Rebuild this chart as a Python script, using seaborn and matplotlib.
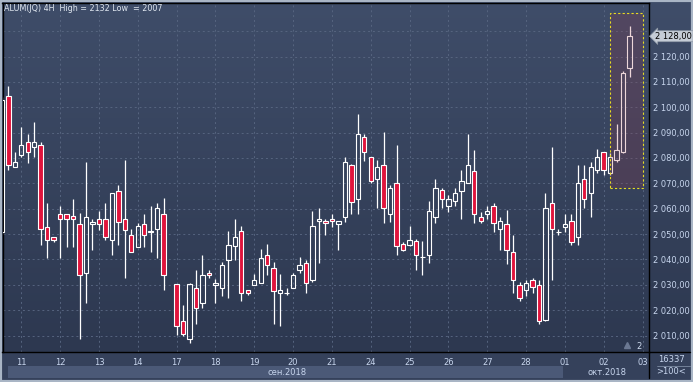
import numpy as np
import pandas as pd
import matplotlib
matplotlib.use('Agg')
import matplotlib.pyplot as plt
import matplotlib.transforms as mtransforms
from matplotlib.colors import LinearSegmentedColormap
from matplotlib.patches import Rectangle
import seaborn as sns

# 4H candles, slot 0 = first bar of the 11th; slot 23 has no bar
slot = list(range(-3, 95))
open_ = [2051.0, 2104.5, 2076.3, 2081.0, 2086.2, 2084.2, 2085.1, 2052.8, 2048.9, 2058.1,
         2058.1, 2057.0, 2054.1, 2034.6, 2054.0, 2056.1, 2056.1, 2047.8, 2067.0, 2056.1,
         2049.8, 2044.9, 2054.1, 2050.9, 2051.8, 2058.1, np.nan, 2030.2, 2015.9, 2008.5,
         2028.8, 2022.9, 2034.8, 2030.0, 2028.8, 2039.9, 2045.2, 2051.1, 2027.8, 2030.0,
         2030.7, 2041.9, 2036.8, 2026.9, 2026.9, 2028.8, 2036.0, 2038.7, 2032.0, 2055.1,
         2055.1, 2056.1, 2054.0, 2056.8, 2077.2, 2063.8, 2088.1, 2080.2, 2071.9, 2077.2,
         2058.1, 2070.0, 2046.0, 2045.8, 2047.2, 2040.9, 2041.9, 2056.8, 2067.2, 2061.0,
         2063.0, 2067.0, 2070.0, 2074.9, 2056.8, 2058.1, 2061.0, 2051.8, 2054.1, 2042.9,
         2030.0, 2027.8, 2032.0, 2030.0, 2016.3, 2062.1, 2050.8, 2052.8, 2055.1, 2048.9,
         2071.9, 2066.0, 2075.2, 2082.2, 2073.9, 2079.2, 2082.4, 2115.4]
high_ = [2104.0, 2108.4, 2082.2, 2092.3, 2089.4, 2094.0, 2086.2, 2062.2, 2049.0, 2061.0,
         2058.1, 2064.0, 2058.3, 2078.4, 2056.1, 2059.1, 2062.2, 2066.0, 2069.3, 2079.2,
         2051.9, 2054.4, 2058.1, 2061.0, 2062.2, 2064.2, np.nan, 2030.2, 2021.9, 2030.8,
         2036.0, 2041.9, 2036.0, 2032.1, 2038.9, 2051.1, 2056.1, 2053.1, 2027.9, 2034.4,
         2044.0, 2046.0, 2038.9, 2034.4, 2028.7, 2034.8, 2040.9, 2039.9, 2059.1, 2060.2,
         2056.1, 2058.1, 2055.1, 2080.5, 2077.5, 2097.4, 2089.4, 2080.2, 2079.2, 2090.1,
         2069.3, 2085.1, 2046.9, 2053.1, 2048.2, 2047.3, 2063.0, 2071.9, 2068.0, 2065.3,
         2068.0, 2075.2, 2089.4, 2083.1, 2058.7, 2061.0, 2062.3, 2056.8, 2059.4, 2049.8,
         2031.1, 2032.0, 2032.8, 2031.7, 2066.2, 2084.4, 2051.9, 2058.1, 2058.1, 2077.2,
         2077.2, 2078.3, 2083.4, 2082.2, 2081.8, 2093.5, 2114.1, 2132.0]
low_ = [2050.0, 2075.1, 2076.3, 2080.2, 2078.1, 2080.2, 2045.8, 2040.6, 2046.9, 2040.7,
        2044.9, 2044.9, 2008.5, 2022.8, 2043.6, 2051.5, 2047.5, 2041.6, 2045.6, 2032.6,
        2042.9, 2044.9, 2044.9, 2042.9, 2040.7, 2027.8, np.nan, 2010.3, 2009.7, 2007.0,
        2014.6, 2020.9, 2032.8, 2022.8, 2025.5, 2024.7, 2039.6, 2023.6, 2025.8, 2030.0,
        2030.7, 2034.0, 2014.6, 2013.7, 2025.8, 2028.8, 2034.8, 2026.9, 2031.0, 2038.7,
        2049.5, 2052.8, 2043.6, 2054.8, 2058.1, 2058.1, 2078.9, 2070.0, 2060.1, 2054.2,
        2054.8, 2041.6, 2043.5, 2045.2, 2036.0, 2034.0, 2038.6, 2054.2, 2060.1, 2058.7,
        2061.0, 2056.1, 2070.0, 2054.2, 2054.2, 2056.1, 2050.8, 2043.9, 2038.1, 2026.7,
        2023.6, 2025.5, 2026.9, 2014.6, 2015.6, 2031.7, 2049.8, 2050.8, 2045.6, 2045.6,
        2060.1, 2056.8, 2073.9, 2073.2, 2073.2, 2078.3, 2081.8, 2112.1]
close_ = [2103.0, 2077.1, 2078.3, 2085.0, 2082.2, 2086.2, 2051.8, 2047.8, 2047.8, 2056.1,
          2056.1, 2056.1, 2034.0, 2056.9, 2054.9, 2054.1, 2048.9, 2066.0, 2054.8, 2051.7,
          2042.9, 2053.1, 2049.8, 2051.1, 2060.1, 2034.0, np.nan, 2013.7, 2010.4, 2030.2,
          2020.9, 2034.0, 2034.0, 2030.8, 2037.9, 2045.8, 2049.0, 2026.9, 2026.9, 2032.0,
          2040.7, 2037.9, 2027.5, 2027.8, 2026.9, 2034.0, 2037.9, 2030.8, 2053.1, 2056.1,
          2054.2, 2055.1, 2055.1, 2078.3, 2062.7, 2089.4, 2082.2, 2071.0, 2076.3, 2060.1,
          2068.0, 2045.2, 2043.9, 2047.8, 2041.9, 2040.9, 2059.1, 2068.0, 2064.0, 2064.0,
          2066.2, 2071.0, 2077.2, 2058.1, 2055.1, 2059.0, 2054.2, 2055.1, 2043.9, 2032.0,
          2024.9, 2030.8, 2029.1, 2015.9, 2060.1, 2051.8, 2050.8, 2054.1, 2046.9, 2070.0,
          2064.0, 2076.3, 2080.2, 2075.2, 2080.2, 2083.1, 2113.4, 2128.0]

day_labels = ['11', '12', '13', '14', '17', '18', '19', '20', '21', '24', '25', '26',
              '27', '28', '01', '02', '03']
day_slots = list(range(0, 97, 6))
price_ticks = list(range(2010, 2131, 10))
last_price = 2128.0


def price_fmt(v):
    v = int(v)
    return f'{v // 1000} {v % 1000:03d},00'


df = pd.DataFrame({'slot': slot, 'open': open_, 'high': high_, 'low': low_, 'close': close_}).dropna()
df['body_lo'] = df[['open', 'close']].min(axis=1)
df['body_hi'] = df[['open', 'close']].max(axis=1)
df['down'] = df['close'] < df['open']

sns.set_theme(style='dark')
plt.rcParams['font.family'] = ['DejaVu Sans']

W, H = 693, 382
fig = plt.figure(figsize=(W / 100, H / 100), dpi=100, facecolor='#35415b')

# gradient background behind the chart and the price scale
bg = fig.add_axes([0, 30 / H, 1, 352 / H], zorder=0)
bg.imshow(np.linspace(0, 1, 256).reshape(-1, 1), aspect='auto', extent=[0, 1, 0, 1],
          cmap=LinearSegmentedColormap.from_list('bg', ['#3f4d69', '#2d3850']))
bg.axis('off')

ax = fig.add_axes([2.5 / W, 30 / H, 646.5 / W, 349 / H], zorder=1)
ax.set_facecolor('none')

red = '#e0143c'
fills = [red if d else 'none' for d in df['down']]
ax.vlines(df['slot'], df['body_hi'], df['high'], color='white', lw=0.9, zorder=3)
ax.vlines(df['slot'], df['low'], df['body_lo'], color='white', lw=0.9, zorder=3)
ax.bar(df['slot'], df['body_hi'] - df['body_lo'], bottom=df['body_lo'], width=0.68,
       color=fills, edgecolor='white', linewidth=0.8, zorder=4)

# highlighted zone on the last bars
ax.add_patch(Rectangle((91.0, 2068.0), 5.1, 69.1, facecolor='#a43444', alpha=0.2,
                       edgecolor='none', zorder=5))
ax.add_patch(Rectangle((91.0, 2068.0), 5.1, 69.1, facecolor='none', edgecolor='#e8dc22',
                       linestyle=(0, (2, 2)), lw=0.8, zorder=6))

ax.set_xlim(-2.9, 97.0)
ax.set_ylim(2003.5, 2141.1)
ax.set_xticks(day_slots)
ax.set_xticklabels(day_labels)
ax.set_yticks(price_ticks)
# the 2130 label sits under the last-price marker
ax.set_yticklabels([price_fmt(v) if abs(v - last_price) > 4 else '' for v in price_ticks])
ax.yaxis.tick_right()
ax.grid(True, color='#56647f', linestyle=(0, (2, 3)), lw=0.7)
ax.tick_params(axis='y', length=0, pad=2.6, labelsize=6, labelcolor='#c8d6ee')
ax.tick_params(axis='x', length=0, pad=4.5, labelsize=6, labelcolor='#c8d6ee')
for s in ax.spines.values():
    s.set_color('black')
    s.set_linewidth(1.0)

# current price marker
ax.annotate(price_fmt(last_price), xy=(1, last_price),
            xycoords=('axes fraction', 'data'), xytext=(4.5, 0), textcoords='offset points',
            ha='left', va='center', fontsize=6, color='black', annotation_clip=False, zorder=10,
            bbox=dict(boxstyle='larrow,pad=0.12', fc='#c5ccd6', ec='#8e98a6', lw=0.5))

# month band under the dates
tr = mtransforms.blended_transform_factory(ax.transData, ax.transAxes)
ax.add_patch(Rectangle((-2.0, -0.0745), 85.7, 0.0344, transform=tr, clip_on=False,
                       facecolor='#4b5977', edgecolor='none'))
ax.text(41.0, -0.058, 'сен.2018', transform=tr, ha='center', va='center', fontsize=6,
        color='#c8d6ee', clip_on=False)
ax.text(90.5, -0.058, 'окт.2018', transform=tr, ha='center', va='center', fontsize=6,
        color='#c8d6ee', clip_on=False)

# small marker at the bottom right of the plot
ax.plot([0.966], [0.02], marker='^', ms=4.5, color='#6b7892', transform=ax.transAxes,
        clip_on=False, zorder=7)
ax.text(0.985, 0.015, '2', transform=ax.transAxes, ha='center', va='center', fontsize=6,
        color='#d0dcef')

# separators and outer frame
fig.add_artist(plt.Line2D([649 / W, 649 / W], [4 / H, 30 / H], color='black', lw=1.0))
fig.add_artist(plt.Line2D([649 / W, 690 / W], [30 / H, 30 / H], color='black', lw=1.0))
fig.add_artist(plt.Line2D([657 / W, 690 / W], [16 / H, 16 / H], color='#7c8aa2', lw=0.6))
fig.text(671 / W, 1 - 359 / H, '16337', ha='center', va='center', fontsize=6, color='#c8d6ee')
fig.text(671 / W, 1 - 372 / H, '>100<', ha='center', va='center', fontsize=6, color='#c8d6ee')
fig.add_artist(Rectangle((0, 0), 1, 1, transform=fig.transFigure, fill=False,
                         edgecolor='#a9b5c5', lw=3))

fig.text(4 / W, 1 - 8.5 / H, 'ALUM(JQ) 4H  High = 2132 Low  = 2007', ha='left', va='center',
         fontsize=5.8, color='#dfe6ef', zorder=10)

fig.savefig('out.png', dpi=100, facecolor=fig.get_facecolor())
